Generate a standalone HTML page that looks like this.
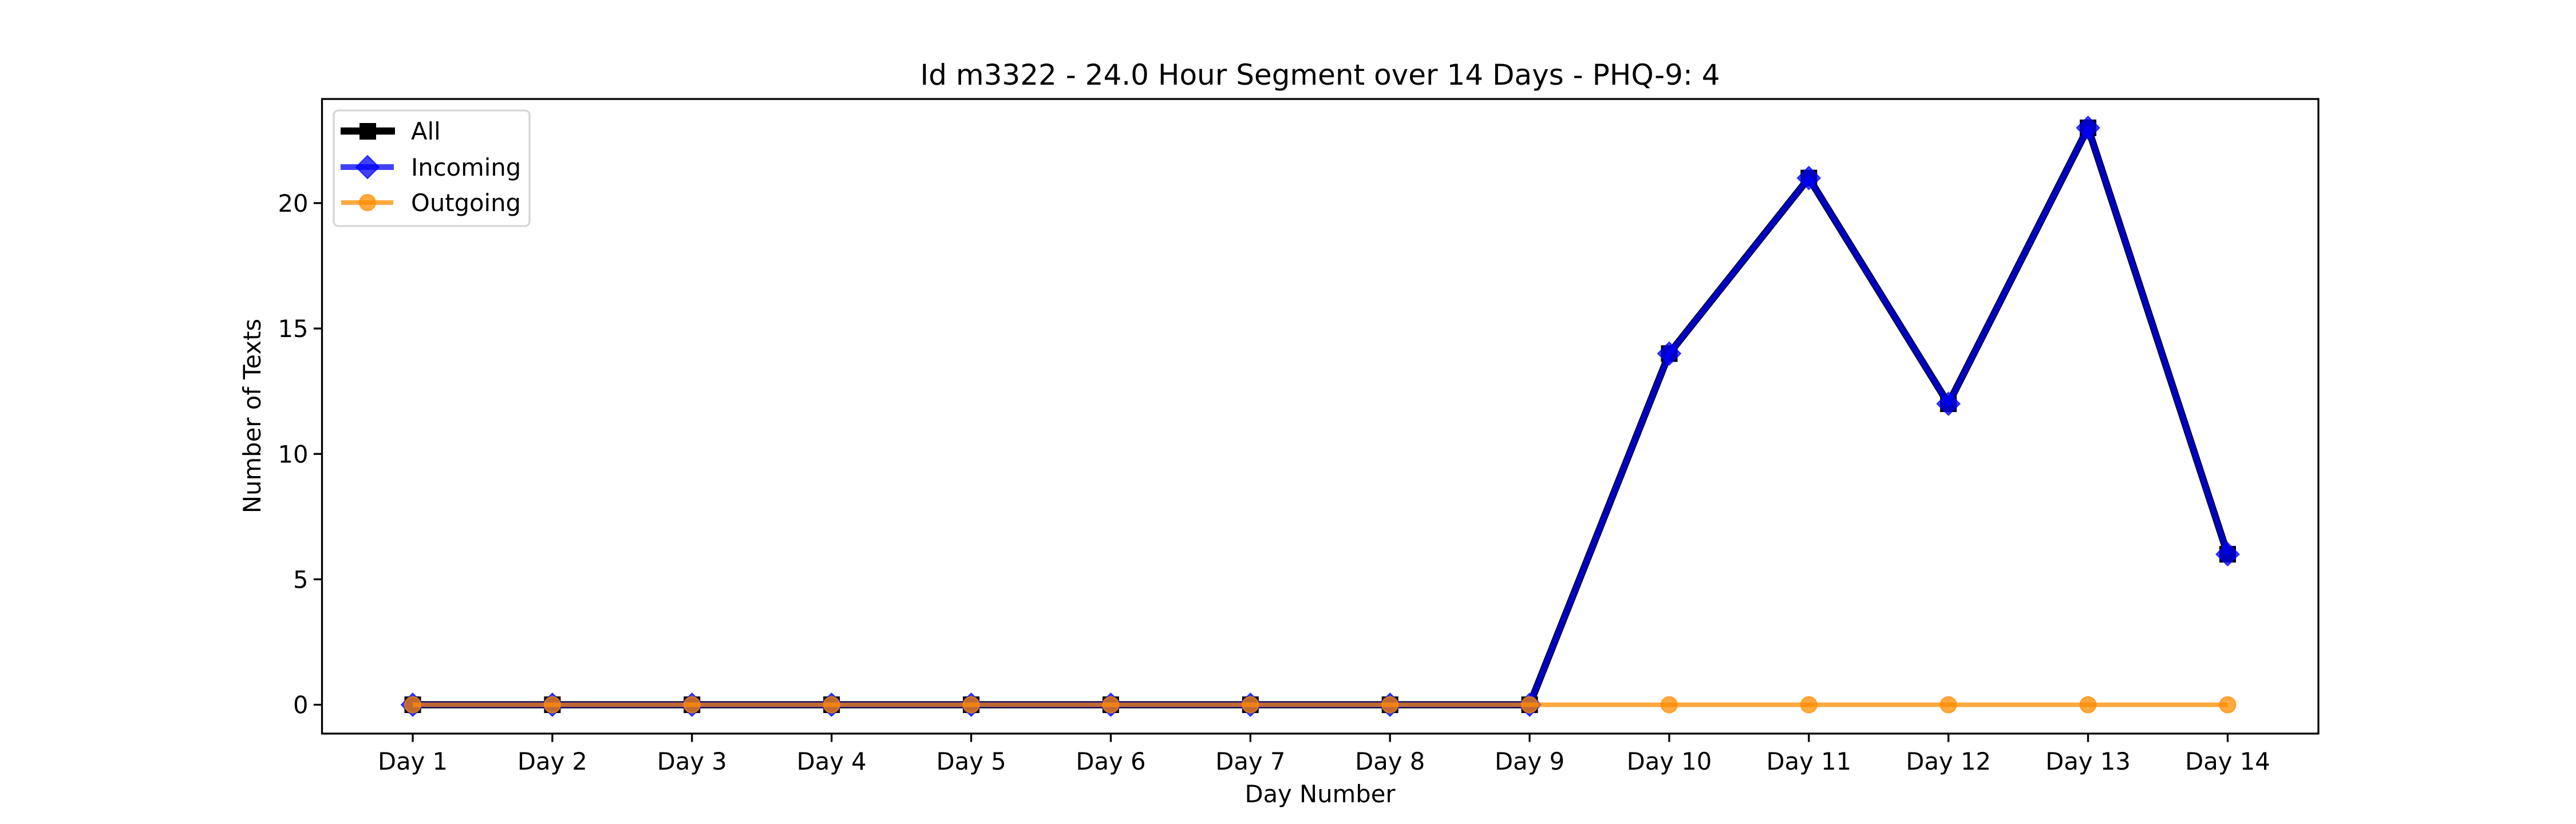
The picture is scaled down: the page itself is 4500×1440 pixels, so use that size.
<!DOCTYPE html>
<html><head><meta charset="utf-8"><style>
html,body{margin:0;padding:0;background:#fff}
svg{display:block;font-family:"DejaVu Sans","Liberation Sans",sans-serif}
</style></head><body>
<svg id="chart" width="4500" height="1440" viewBox="0 0 4500 1440">
<rect width="4500" height="1440" fill="#fff"/>
<text x="2306" y="148" font-size="50" text-anchor="middle">Id m3322 - 24.0 Hour Segment over 14 Days - PHQ-9: 4</text>
<g id="plot"></g>
<rect x="562.5" y="173" width="3487.5" height="1109" fill="none" stroke="#000" stroke-width="3.3"/>
<text x="2306" y="1402" font-size="41.7" text-anchor="middle">Day Number</text>
<text transform="translate(455,727) rotate(-90)" font-size="41.7" text-anchor="middle">Number of Texts</text>
<g>
<rect x="583" y="193" width="342" height="202" rx="8" fill="#fff" fill-opacity="0.8" stroke="#d6d6d6" stroke-width="3.3"/>
<g>
<line x1="595" y1="229" x2="690" y2="229" stroke="#000" stroke-width="12.5"/>
<rect x="628" y="215" width="29" height="29" fill="#000"/>
<text x="718" y="244" font-size="41.7">All</text></g>
<g>
<line x1="595" y1="292" x2="688" y2="292" stroke="blue" stroke-opacity="0.75" stroke-width="10"/>
<path d="M642,272 L662,292 L642,312 L622,292Z" fill="blue" fill-opacity="0.75" stroke="blue" stroke-opacity="0.75" stroke-width="2"/>
<text x="718" y="307" font-size="41.7">Incoming</text></g>
<g>
<line x1="596" y1="354" x2="687" y2="354" stroke="darkorange" stroke-opacity="0.75" stroke-width="8"/>
<circle cx="642" cy="354" r="14" fill="darkorange" fill-opacity="0.75" stroke="darkorange" stroke-opacity="0.75" stroke-width="2"/>
<text x="718" y="369" font-size="41.7">Outgoing</text></g>
</g>
</svg>
<script>
const categories = ["Day 1","Day 2","Day 3","Day 4","Day 5","Day 6","Day 7","Day 8","Day 9","Day 10","Day 11","Day 12","Day 13","Day 14"];
const allValues = [0,0,0,0,0,0,0,0,0,14,21,12,23,6];
const incomingValues = [0,0,0,0,0,0,0,0,0,14,21,12,23,6];
const outgoingValues = [0,0,0,0,0,0,0,0,0,0,0,0,0,0];
const yTicks = [0,5,10,15,20];

const NS="http://www.w3.org/2000/svg";
const L=562.5,R=4050,T=173,B=1282;
const n=categories.length;
const xspan=(n-1)*1.1, x0=-(n-1)*0.05;
function xs(i){return L+(i-x0)/xspan*(R-L);}
const allV=allValues.concat(incomingValues,outgoingValues);
let ymax=Math.max(...allV), ymin=Math.min(...allV,0);
const yr=(ymax-ymin)||1;
const ylo=ymin-0.05*yr, yhi=ymax+0.05*yr;
function ys(v){return B-(v-ylo)/(yhi-ylo)*(B-T);}
const g=document.getElementById('plot');
function el(tag,attrs,parent){const e=document.createElementNS(NS,tag);for(const k in attrs)e.setAttribute(k,attrs[k]);(parent||g).appendChild(e);return e;}

categories.forEach((c,i)=>{
  const x=xs(i);
  const t=el('line',{x1:x,y1:B,x2:x,y2:B+14.6,stroke:'#000','stroke-width':3.3});
  
  
  const lb=el('text',{x:x,y:B+63,'font-size':41.7,'text-anchor':'middle'});
  lb.textContent=c;
  
  
});
yTicks.forEach(v=>{
  const y=ys(v);
  const t=el('line',{x1:L-14.6,y1:y,x2:L,y2:y,stroke:'#000','stroke-width':3.3});
  
  
  const lb=el('text',{x:L-24,y:y+15,'font-size':41.7,'text-anchor':'end'});
  lb.textContent=v;
  
  
});

function series(vals,name,color,op,lw,marker,size){
  const grp=el('g',{});
  
  
  const pts=vals.map((v,i)=>xs(i)+','+ys(v)).join(' ');
  const pl=el('polyline',{points:pts,fill:'none',stroke:color,'stroke-opacity':op,'stroke-width':lw,'stroke-linejoin':'round'},grp);
  
  
  vals.forEach((v,i)=>{
    const x=xs(i),y=ys(v);let m;
    if(marker==='s') m=el('rect',{x:x-size/2,y:y-size/2,width:size,height:size,fill:color,'fill-opacity':op},grp);
    else if(marker==='d') m=el('path',{d:`M${x},${y-size} L${x+size},${y} L${x},${y+size} L${x-size},${y}Z`,fill:color,'fill-opacity':op,stroke:color,'stroke-opacity':op,'stroke-width':2},grp);
    else m=el('circle',{cx:x,cy:y,r:size,fill:color,'fill-opacity':op,stroke:color,'stroke-opacity':op,'stroke-width':2},grp);
    
    
  });
}
series(allValues,'series-all','#000',1,12.5,'s',29);
series(incomingValues,'series-incoming','blue',0.75,10,'d',20);
series(outgoingValues,'series-outgoing','darkorange',0.75,8,'o',14);
</script>
</body></html>
